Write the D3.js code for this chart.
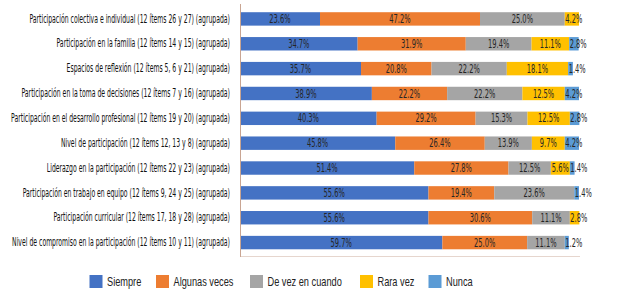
<!DOCTYPE html>
<html><head><meta charset="utf-8">
<script src="https://cdn.jsdelivr.net/npm/d3@7/dist/d3.min.js"></script>
<style>
body{margin:0;background:#fff;}
svg{display:block;}
</style></head>
<body>
<svg id="chart" width="625" height="296"></svg>
<script>
const categories = [
  "Participación colectiva e individual (12 ítems 26 y 27) (agrupada)",
  "Participación en la familia (12 ítems 14 y 15) (agrupada)",
  "Espacios de reflexión (12 ítems 5, 6 y 21) (agrupada)",
  "Participación en la toma de decisiones (12 ítems 7 y 16) (agrupada)",
  "Participación en el desarrollo profesional (12 ítems 19 y 20) (agrupada)",
  "Nivel de participación (12 ítems 12, 13 y 8) (agrupada)",
  "Liderazgo en la participación (12 ítems 22 y 23) (agrupada)",
  "Participación en trabajo en equipo (12 ítems 9, 24 y 25) (agrupada)",
  "Participación curricular (12 ítems 17, 18 y 28) (agrupada)",
  "Nivel de compromiso en la participación (12 ítems 10 y 11) (agrupada)"
];
const seriesNames = ["Siempre","Algunas veces","De vez en cuando","Rara vez","Nunca"];
const siempre   = [23.6, 34.7, 35.7, 38.9, 40.3, 45.8, 51.4, 55.6, 55.6, 59.7];
const algunas   = [47.2, 31.9, 20.8, 22.2, 29.2, 26.4, 27.8, 19.4, 30.6, 25.0];
const deVez     = [25.0, 19.4, 22.2, 22.2, 15.3, 13.9, 12.5, 23.6, 11.1, 11.1];
const raraVez   = [4.2, 11.1, 18.1, 12.5, 12.5, 9.7, 5.6, 0, 2.8, 0];
const nunca     = [0, 2.8, 1.4, 4.2, 2.8, 4.2, 1.4, 1.4, 0, 1.2];
const colors = ["#4472C4","#ED7D31","#A5A5A5","#FFC000","#5B9BD5"];

const series = [siempre, algunas, deVez, raraVez, nunca];
const rows = categories.map((c,i)=>{
  const o = {cat:c};
  seriesNames.forEach((s,j)=>o[s]=series[j][i]);
  return o;
});

const svg = d3.select("#chart");
const x = d3.scaleLinear().domain([0,100]).range([240,579]);
const y = d3.scaleBand().domain(categories).range([6.5,255]).paddingInner(0.46).paddingOuter(0.23);
const color = d3.scaleOrdinal().domain(seriesNames).range(colors);

const stacked = d3.stack().keys(seriesNames)(rows);

const g = svg.append("g");
stacked.forEach(layer=>{
  g.selectAll(null).data(layer).enter().append("rect")
    .attr("x", d=>x(d[0]))
    .attr("y", d=>y(d.data.cat))
    .attr("width", d=>x(d[1])-x(d[0]))
    .attr("height", y.bandwidth())
    .attr("fill", color(layer.key));
});

const condFont = "'Liberation Sans Narrow','DejaVu Sans Condensed',Arial,sans-serif";

// value labels
stacked.forEach(layer=>{
  g.selectAll(null).data(layer.filter(d=>d.data[layer.key]>0)).enter().append("text")
    .attr("class","val")
    .attr("x", 0)
    .attr("y", d=>y(d.data.cat)+y.bandwidth()/2)
    .attr("dy","0.36em")
    .attr("font-family",condFont)
    .attr("font-size","11.5px")
    .attr("fill","#262626")
    .text(d=>d.data[layer.key].toFixed(1)+"%");
});

// axes lines
svg.append("line").attr("x1",240).attr("x2",580).attr("y1",256.5).attr("y2",256.5)
  .attr("stroke","#e6d6ce").attr("stroke-width",1);
const yAxis = d3.axisLeft(y).tickSize(0).tickPadding(10);
const ax = svg.append("g").attr("transform","translate(240,0)").call(yAxis);
ax.select(".domain").attr("d","M0.5,4V257").attr("stroke","#c9a592");
ax.selectAll(".tick text")
  .attr("font-family",condFont)
  .attr("font-size","11.5px")
  .attr("fill","#111");

// condense category labels to match reference width
const first = ax.select(".tick text").node();
const w0 = first.getComputedTextLength();
const f = 201 / w0;
ax.selectAll(".tick text").each(function(){
  const t = d3.select(this);
  t.attr("transform", `translate(-10,0) scale(${f},1)`).attr("x",0);
});
// value label condensing and placement (centered if it fits, else starts at segment)
const sample = g.select("text.val").node();
const fv = 21.3 / sample.getComputedTextLength();
g.selectAll("text.val").each(function(d){
  const t = d3.select(this);
  const w = this.getComputedTextLength() * fv;
  const x0 = x(d[0]), x1 = x(d[1]);
  const left = (w <= x1 - x0) ? (x0 + x1) / 2 - w / 2 : x0 + 0.5;
  t.attr("transform",`translate(${left},0) scale(${fv},1)`).attr("x",0);
});

// legend
const legX = [89.5, 156, 250, 360, 428.5];
const leg = svg.append("g");
const legTexts = [];
seriesNames.forEach((s,i)=>{
  leg.append("rect").attr("x",legX[i]).attr("y",275).attr("width",13).attr("height",13).attr("fill",colors[i]);
  const t = leg.append("text").attr("x",0).attr("y",0).attr("dy","0.36em")
    .attr("font-family","'Liberation Sans','Arial',sans-serif").attr("font-size","12px").attr("fill","#222").text(s);
  legTexts.push({t, x: legX[i]+17.5});
});
const fl = 60 / legTexts[1].t.node().getComputedTextLength();
legTexts.forEach(o=>o.t.attr("transform",`translate(${o.x},281.5) scale(${fl},1)`));
</script>
</body></html>
